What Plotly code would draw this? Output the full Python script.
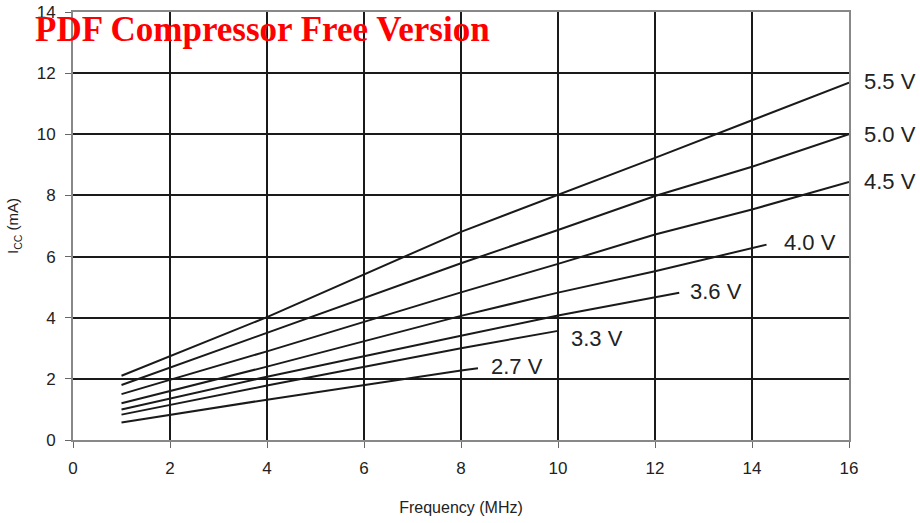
import plotly.graph_objects as go

# Supply current vs. clock frequency for several supply voltages
supply_labels = ["5.5 V", "5.0 V", "4.5 V", "4.0 V", "3.6 V", "3.3 V", "2.7 V"]

freq_55 = [1, 4, 8, 10, 12, 14, 16]
icc_55 = [2.1, 4.02, 6.81, 8.01, 9.23, 10.46, 11.69]

freq_50 = [1, 4, 8, 10, 12, 14, 16]
icc_50 = [1.8, 3.51, 5.78, 6.87, 7.98, 8.94, 10.0]

freq_45 = [1, 4, 8, 10, 12, 14, 16]
icc_45 = [1.5, 2.9, 4.83, 5.76, 6.72, 7.54, 8.44]

freq_40 = [1, 4, 8, 10, 12, 14, 14.3]
icc_40 = [1.2, 2.4, 4.06, 4.82, 5.52, 6.29, 6.39]

freq_36 = [1, 4, 8, 10, 12.5]
icc_36 = [1.0, 2.07, 3.41, 4.07, 4.82]

freq_33 = [1, 4, 8, 10]
icc_33 = [0.83, 1.78, 3.0, 3.57]

freq_27 = [1, 4, 8, 8.35]
icc_27 = [0.57, 1.32, 2.27, 2.35]

x_ticks = [0, 2, 4, 6, 8, 10, 12, 14, 16]
y_ticks = [0, 2, 4, 6, 8, 10, 12, 14]

series = [
    (freq_55, icc_55),
    (freq_50, icc_50),
    (freq_45, icc_45),
    (freq_40, icc_40),
    (freq_36, icc_36),
    (freq_33, icc_33),
    (freq_27, icc_27),
]

# label offsets (px) from each curve's end point
label_shift = [(13, 1), (13, 0), (13, 0), (15, 2), (9, 1), (11, -8), (11, 2)]

fig = go.Figure()
annotations = []
for name, (xs, ys), (dx, dy) in zip(supply_labels, series, label_shift):
    fig.add_trace(go.Scatter(
        x=xs, y=ys, mode="lines", name=name,
        line=dict(color="#1a1a1a", width=2),
        showlegend=False, hoverinfo="skip",
    ))
    annotations.append(dict(
        x=xs[-1], y=ys[-1], xref="x", yref="y", text=name,
        showarrow=False, xanchor="left", yanchor="middle",
        xshift=dx, yshift=dy,
        font=dict(family="Liberation Sans, Arial", size=22, color="#222"),
    ))

# watermark banner across the top-left of the figure
annotations.append(dict(
    xref="paper", yref="paper",
    x=(33 - 73) / 776, y=1 + (12 - 30) / 428,
    text="<b>PDF Compressor Free Version</b>",
    showarrow=False, xanchor="left", yanchor="middle",
    font=dict(family="Liberation Serif, Times New Roman", size=35, color="#ff0000"),
))

fig.update_layout(
    width=920, height=523,
    margin=dict(l=73, r=71, t=12, b=83, autoexpand=False),
    paper_bgcolor="white", plot_bgcolor="white",
    font=dict(family="Liberation Sans, Arial", color="#222"),
    annotations=annotations,
    xaxis=dict(
        range=[0, 16], tickvals=x_ticks, ticktext=[str(v) for v in x_ticks],
        showgrid=True, gridcolor="#1a1a1a", gridwidth=2,
        showline=True, linecolor="#888", linewidth=2, mirror=True,
        ticks="outside", ticklen=6, tickcolor="#666", tickwidth=1,
        tickfont=dict(size=17), ticklabelstandoff=6,
        zeroline=False, automargin=False,
        title=dict(text="Frequency (MHz)", font=dict(size=16), standoff=24),
    ),
    yaxis=dict(
        range=[0, 14], tickvals=y_ticks, ticktext=[str(v) for v in y_ticks],
        showgrid=True, gridcolor="#1a1a1a", gridwidth=2,
        showline=True, linecolor="#888", linewidth=2, mirror=True,
        ticks="outside", ticklen=6, tickcolor="#666", tickwidth=1,
        tickfont=dict(size=17), ticklabelstandoff=6,
        zeroline=True, zerolinecolor="#333", zerolinewidth=2,
        automargin=False,
        title=dict(text="I<sub>CC</sub> (mA)", font=dict(size=15), standoff=14),
    ),
)

fig.write_html("out.html")
